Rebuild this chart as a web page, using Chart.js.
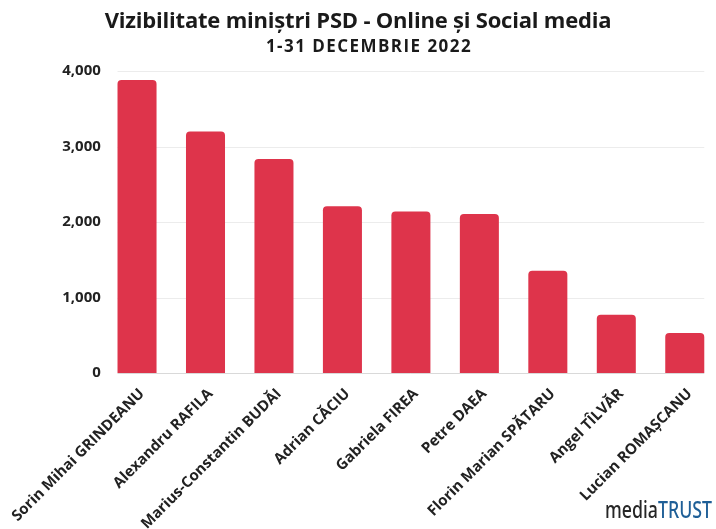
<!DOCTYPE html>
<html>
<head>
<meta charset="utf-8">
<script src="https://cdn.jsdelivr.net/npm/chart.js@4/dist/chart.umd.min.js"></script>
<style>
  html, body { margin: 0; padding: 0; background: #fff; overflow: hidden; }
  #wrap { width: 716px; height: 529px; overflow: hidden; }
</style>
</head>
<body>
<div id="wrap"><canvas id="myBar" width="720" height="529"></canvas></div>
<script>
var categories = [
  "Sorin Mihai GRINDEANU", "Alexandru RAFILA", "Marius-Constantin BUDĂI",
  "Adrian CĂCIU", "Gabriela FIREA", "Petre DAEA",
  "Florin Marian SPĂTARU", "Angel TÎLVĂR", "Lucian ROMAȘCANU"
];
var values = [3880, 3200, 2834, 2207, 2140, 2106, 1355, 772, 530];
var yTicks = [0, 1000, 2000, 3000, 4000];

var titleText = "Vizibilitate miniștri PSD - Online și Social media";
var subtitleText = "1-31 DECEMBRIE 2022";

// title + subtitle drawn by hand so letter spacing can be set
var titlePlugin = {
  id: "titles",
  afterDraw: function (chart) {
    var ctx = chart.ctx;
    ctx.save();
    ctx.fillStyle = "#1a1a1a";
    ctx.textAlign = "center";
    ctx.textBaseline = "alphabetic";
    ctx.font = "bold 22px 'Open Sans'";
    ctx.letterSpacing = "-0.2px";
    ctx.fillText(titleText, 358, 28);
    ctx.font = "bold 17px 'Open Sans'";
    ctx.letterSpacing = "1.45px";
    ctx.fillText(subtitleText, 369, 52);
    ctx.restore();
  }
};

// grid lines only as wide as the bars, like the original
var gridPlugin = {
  id: "barGrid",
  beforeDatasetsDraw: function (chart) {
    var ctx = chart.ctx;
    var bars = chart.getDatasetMeta(0).data;
    var x0 = bars[0].x - bars[0].width / 2;
    var x1 = bars[bars.length - 1].x + bars[bars.length - 1].width / 2;
    var y = chart.scales.y;
    ctx.save();
    ctx.lineWidth = 1;
    y.ticks.forEach(function (t) {
      var py = Math.round(y.getPixelForValue(t.value)) + 0.5;
      ctx.strokeStyle = t.value === 0 ? "#d9d9d9" : "#ececec";
      ctx.beginPath();
      ctx.moveTo(x0, py);
      ctx.lineTo(x1, py);
      ctx.stroke();
    });
    ctx.restore();
  }
};

var logoPlugin = {
  id: "logo",
  afterDraw: function (chart) {
    var ctx = chart.ctx;
    ctx.save();
    ctx.font = "500 23px 'Noto Sans'";
    ctx.textBaseline = "alphabetic";
    ctx.textAlign = "left";
    var w1 = ctx.measureText("media").width;
    var w2 = ctx.measureText("TRUST").width;
    var sx = 107 / (w1 + w2);
    ctx.translate(605, 518);
    ctx.scale(sx, 1);
    ctx.fillStyle = "#262626";
    ctx.fillText("media", 0, 0);
    ctx.fillStyle = "#1f5f97";
    ctx.fillText("TRUST", w1, 0);
    ctx.restore();
  }
};

var config = {
  type: "bar",
  data: {
    labels: categories,
    datasets: [{
      data: values,
      backgroundColor: "#de344b",
      borderRadius: { topLeft: 4, topRight: 4 },
      borderSkipped: "bottom",
      categoryPercentage: 1,
      barPercentage: 0.57
    }]
  },
  options: {
    responsive: false,
    animation: false,
    layout: { padding: { left: 0, right: 1, top: 71, bottom: 0 } },
    plugins: {
      legend: { display: false },
      tooltip: { enabled: false }
    },
    scales: {
      x: {
        grid: { display: false },
        border: { display: false },
        ticks: {
          color: "#222",
          font: { family: "'Open Sans'", size: 15, weight: "bold" },
          minRotation: 45,
          maxRotation: 45,
          autoSkip: false,
          labelOffset: 5,
          padding: 4
        },
        afterFit: function (s) { s.height = 156; }
      },
      y: {
        min: yTicks[0],
        max: yTicks[yTicks.length - 1],
        grid: { display: false },
        border: { display: false },
        ticks: {
          stepSize: yTicks[1] - yTicks[0],
          color: "#222",
          font: { family: "'Open Sans'", size: 15, weight: "bold" },
          padding: -6
        },
        afterFit: function (s) { s.width = 102; }
      }
    }
  },
  plugins: [gridPlugin, titlePlugin, logoPlugin]
};

var chart = new Chart(document.getElementById("myBar"), config);
</script>
</body>
</html>
